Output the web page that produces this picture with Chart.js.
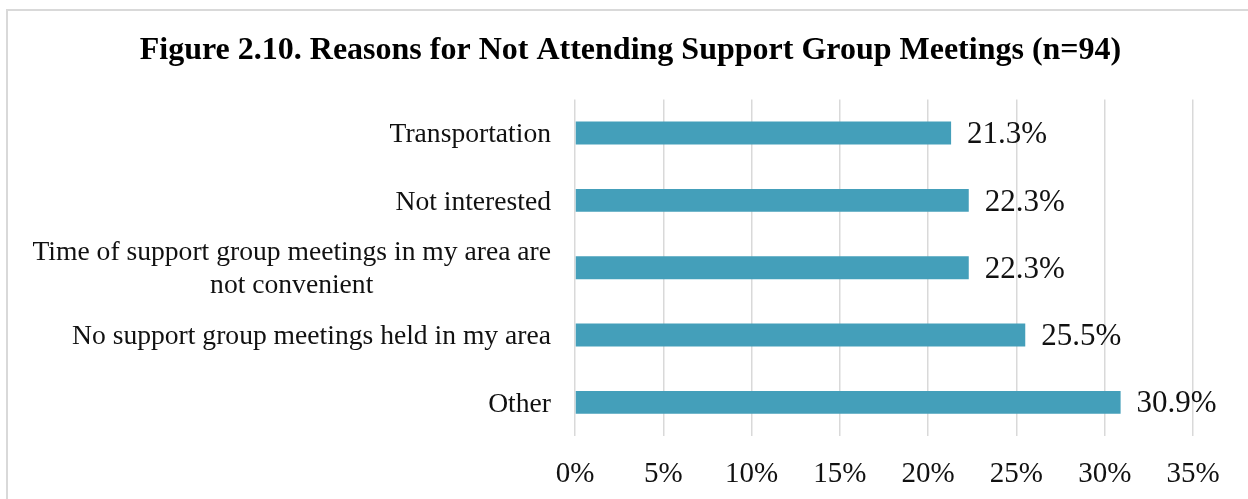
<!DOCTYPE html>
<html lang="en">
<head>
    <meta charset="UTF-8">
    <title>Reasons for Not Attending Support Group Meetings</title>
    <script src="https://cdn.jsdelivr.net/npm/chart.js@4.4.1/dist/chart.umd.min.js"></script>
    <style>
        body { margin: 0; background: #fff; overflow: hidden; }
        .frame { position: absolute; left: 6px; top: 9px; width: 1300px; height: 600px;
                 border-left: 2px solid #d9d9d9; border-top: 2px solid #d9d9d9; }
        .wrap { position: absolute; left: 0; top: 0; width: 1248px; height: 499px; }
    </style>
</head>
<body>
    <div class="frame"></div>
    <div class="wrap"><canvas id="chart"></canvas></div>

    <script>
        // data
        const reasons = [
            'Transportation',
            'Not interested',
            ['Time of support group meetings in my area are', 'not convenient'],
            'No support group meetings held in my area',
            'Other'
        ];
        const percents = [21.3, 22.3, 22.3, 25.5, 30.9];
        const xTicks = [0, 5, 10, 15, 20, 25, 30, 35];

        const serif = '"Liberation Serif", "Times New Roman", serif';

        // category labels: block right-aligned, lines centred inside the block
        const categoryLabels = {
            id: 'categoryLabels',
            afterDraw(chart) {
                const ctx = chart.ctx;
                const y = chart.scales.y;
                const lineH = 33;
                ctx.save();
                ctx.font = '27.6px ' + serif;
                ctx.fillStyle = '#111';
                ctx.textBaseline = 'middle';
                ctx.textAlign = 'center';
                reasons.forEach((lab, i) => {
                    const lines = Array.isArray(lab) ? lab : [lab];
                    const blockW = Math.max(...lines.map(l => ctx.measureText(l).width));
                    const cx = y.right - 24 - blockW / 2;
                    const cy = y.getPixelForTick(i) + 2;
                    lines.forEach((l, j) => {
                        ctx.fillText(l, cx, cy + (j - (lines.length - 1) / 2) * lineH);
                    });
                });
                ctx.restore();
            }
        };

        // value labels at the end of each bar
        const valueLabels = {
            id: 'valueLabels',
            afterDatasetsDraw(chart) {
                const ctx = chart.ctx;
                const meta = chart.getDatasetMeta(0);
                ctx.save();
                ctx.font = '31px ' + serif;
                ctx.fillStyle = '#111';
                ctx.textBaseline = 'middle';
                ctx.textAlign = 'left';
                meta.data.forEach((bar, i) => {
                    ctx.fillText(percents[i].toFixed(1) + '%', bar.x + 16, bar.y + 2);
                });
                ctx.restore();
            }
        };

        new Chart(document.getElementById('chart'), {
            type: 'bar',
            data: {
                labels: reasons,
                datasets: [{
                    data: percents,
                    backgroundColor: '#449fba',
                    barPercentage: 0.34,
                    categoryPercentage: 1
                }]
            },
            options: {
                indexAxis: 'y',
                responsive: true,
                maintainAspectRatio: false,
                animation: false,
                layout: { padding: { left: 68, right: 55, top: 0, bottom: 10 } },
                plugins: {
                    legend: { display: false },
                    tooltip: { enabled: false },
                    title: {
                        display: true,
                        text: 'Figure 2.10. Reasons for Not Attending Support Group Meetings (n=94)',
                        color: '#000',
                        font: { family: serif, size: 32, weight: 'bold' },
                        padding: { top: 32, bottom: 29 }
                    }
                },
                scales: {
                    x: {
                        min: xTicks[0],
                        max: xTicks[xTicks.length - 1],
                        afterBuildTicks(scale) {
                            scale.ticks = xTicks.map(v => ({ value: v }));
                        },
                        afterFit(scale) { scale.height = 53; },
                        ticks: {
                            callback: v => v + '%',
                            color: '#111',
                            font: { family: serif, size: 29 },
                            padding: 21,
                            maxRotation: 0
                        },
                        grid: { color: '#d9d9d9', lineWidth: 1.5, drawTicks: false },
                        border: { display: false }
                    },
                    y: {
                        afterFit(scale) { scale.width = 507; },
                        ticks: { display: false },
                        grid: { display: false },
                        border: { display: false }
                    }
                }
            },
            plugins: [categoryLabels, valueLabels]
        });
    </script>
</body>
</html>
